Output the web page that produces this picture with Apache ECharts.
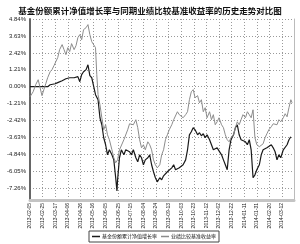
<!DOCTYPE html>
<html><head><meta charset="utf-8">
<script src="https://cdn.jsdelivr.net/npm/echarts@6/dist/echarts.min.js"></script>
<style>html,body{margin:0;padding:0;background:#fff}#c{width:300px;height:244px}</style>
</head><body><div id="c"></div>
<script>
var titleText = '基金份额累计净值增长率与同期业绩比较基准收益率的历史走势对比图';
var fundName = '基金份额累计净值增长率';
var benchName = '业绩比较基准收益率';
var xTickLabels = ['2013-02-05','2013-02-25','2013-03-17','2013-04-06','2013-04-26','2013-05-16','2013-06-05','2013-06-25','2013-07-15','2013-08-04','2013-08-24','2013-09-13','2013-10-03','2013-10-23','2013-11-12','2013-12-02','2013-12-22','2014-01-11','2014-01-31','2014-02-20','2014-03-12'];
var yTicks = [4.84, 3.63, 2.42, 1.21, 0.00, -1.21, -2.42, -3.63, -4.84, -6.05, -7.26];
// days since 2013-02-05
var fundDays = [0,8,16,24,28,32,35,40,44,47,51,54,57,60,63,66,70,73,76,79,82,85,89,92,95,98,101,104,108,111,114,117,120,123,126,130,133,136,138,139,142,145,149,152,155,158,161,164,168,171,174,177,180,183,187,190,193,196,199,202,206,209,212,215,218,221,225,228,231,234,237,240,243,247,250,253,256,259,262,266,269,272,275,278,281,285,288,291,294,297,300,304,307,310,313,316,319,323,326,329,332,335,338,342,345,348,351,354,357,360,364,367,370,373,376,379,383,386,389,392,395,398,402,405,408,411,414];
var fundVals = [0,0,0,0,0,0.14,0.14,0.21,0.29,0.36,0.43,0.50,0.57,0.57,0.64,0.57,0.64,0.50,0.72,0.36,0.86,1.07,1.22,1.57,0.79,0.64,0.50,-0.57,-0.93,-2.22,-2.72,-3.65,-4.15,-4.87,-4.51,-4.87,-5.23,-6.51,-7.45,-6.66,-5.08,-4.51,-4.87,-4.51,-4.37,-4.65,-4.87,-4.51,-5.08,-5.37,-4.87,-5.08,-5.58,-5.23,-5.08,-4.87,-5.58,-6.08,-6.51,-6.80,-6.51,-6.66,-6.37,-6.30,-6.08,-5.94,-5.80,-5.58,-5.94,-6.08,-5.80,-5.94,-5.58,-5.23,-4.51,-3.44,-3.22,-2.93,-3.08,-3.44,-3.29,-3.51,-3.36,-3.65,-3.44,-3.79,-4.15,-4.51,-4.65,-4.37,-4.51,-4.87,-5.23,-5.58,-5.94,-4.51,-3.79,-3.44,-2.93,-2.72,-3.44,-3.79,-3.65,-3.94,-4.15,-3.79,-4.51,-6.51,-6.30,-5.94,-5.58,-4.87,-4.51,-4.65,-4.37,-4.51,-4.15,-4.37,-4.65,-5.23,-4.87,-5.08,-4.51,-4.37,-4.15,-3.79,-3.58];
var benchDays = [0,5,9,13,16,19,22,25,28,32,35,38,41,44,47,51,54,57,60,63,66,70,73,76,79,82,85,89,92,95,98,101,104,106,108,111,114,117,120,123,126,130,133,136,139,142,145,149,152,155,158,161,164,168,171,174,177,180,183,187,190,193,196,199,202,206,209,212,215,218,221,225,228,231,234,237,240,243,247,250,253,256,259,262,266,269,272,275,278,281,285,288,291,294,297,300,304,307,310,313,316,319,323,326,329,332,335,338,342,345,348,351,354,357,360,364,367,370,373,376,379,383,386,389,392,395,398,402,405,408,411,414,416];
var benchVals = [-0.72,-0.36,0.14,0.50,-0.07,-0.64,-0.21,0.21,0.64,1.07,1.22,1.50,1.79,2.08,2.65,3.01,2.65,2.29,2.79,2.51,3.08,2.65,2.93,3.51,3.72,3.36,4.08,4.22,4.44,3.72,3.22,3.36,2.79,0.86,-0.57,-1.29,-2.22,-3.08,-2.72,-3.44,-3.79,-4.51,-5.08,-5.44,-5.23,-4.51,-4.37,-3.79,-3.65,-3.08,-2.65,-2.51,-2.72,-2.36,-2.93,-3.79,-4.37,-4.15,-4.51,-3.94,-4.15,-4.51,-5.23,-5.58,-5.80,-5.58,-4.87,-4.51,-3.79,-3.44,-3.08,-2.72,-2.36,-2.22,-1.79,-2.00,-1.86,-2.22,-2.00,-1.79,-0.93,-0.36,-0.21,-0.79,-0.64,-1.15,-0.93,-1.79,-1.50,-2.22,-1.79,-2.36,-2.00,-2.72,-2.51,-2.22,-2.72,-2.93,-3.44,-3.79,-3.94,-3.65,-3.44,-2.93,-2.51,-2.72,-2.36,-2.00,-2.22,-1.79,-2.00,-2.22,-1.65,-3.65,-4.15,-4.29,-4.22,-4.08,-3.65,-3.36,-3.08,-2.86,-2.65,-2.51,-2.72,-2.36,-2.51,-2.22,-1.93,-2.15,-1.50,-0.93,-1.15];

function pairs(d, v) { return d.map(function (x, i) { return [x, v[i]]; }); }

var chart = echarts.init(document.getElementById('c'), null, {renderer: 'canvas'});
chart.setOption({
  animation: false,
  title: {text: titleText, left: 'center', top: 2,
    textStyle: {fontSize: 8.5, fontWeight: 'bold', color: '#111', fontFamily: 'Noto Sans CJK SC'}},
  legend: {
    data: [fundName, benchName], left: 89, top: 231, itemGap: 4,
    itemWidth: 8, itemHeight: 1.5, icon: 'rect',
    borderColor: '#444', borderWidth: 1, padding: [3, 3],
    textStyle: {fontSize: 5, color: '#111', fontFamily: 'Noto Sans CJK SC', padding: [0, 0, 0, -3]}
  },
  grid: {left: 30, right: 6, top: 19, bottom: 44},
  xAxis: {
    type: 'value', min: 0, max: 419, interval: 20,
    axisLine: {onZero: false, lineStyle: {color: '#c4c4c4', width: 3}},
    axisTick: {show: false},
    axisLabel: {rotate: 90, fontSize: 5, color: '#222', margin: 3, fontFamily: 'Arial',
      showMaxLabel: false,
      formatter: function (v) { return xTickLabels[Math.round(v / 20)] || ''; }},
    splitLine: {show: true, lineStyle: {color: '#9a9a9a', type: [1, 2], width: 1}}
  },
  yAxis: [{
    type: 'value', min: -8.1, max: 4.84,
    axisLine: {show: true, onZero: false, lineStyle: {color: '#666', width: 2}},
    axisTick: {show: false, customValues: yTicks},
    axisLabel: {fontSize: 6, color: '#222', margin: 4, fontFamily: 'Arial', customValues: yTicks,
      showMaxLabel: true, showMinLabel: true, hideOverlap: false,
      formatter: function (v) { return v.toFixed(2) + '%'; }},
    splitLine: {show: true, lineStyle: {color: '#9a9a9a', type: [1, 2], width: 1}}
  }, {
    type: 'value', min: -8.1, max: 4.84, position: 'right',
    axisLine: {show: true, onZero: false, lineStyle: {color: '#bbb', width: 1}},
    axisTick: {show: false}, axisLabel: {show: false}, splitLine: {show: false}
  }],
  series: [
    {name: fundName, type: 'line', data: pairs(fundDays, fundVals), showSymbol: false, symbol: 'none',
      lineStyle: {color: '#1a1a1a', width: 1.2}, itemStyle: {color: '#1a1a1a'}},
    {name: benchName, type: 'line', data: pairs(benchDays, benchVals), showSymbol: false, symbol: 'none',
      lineStyle: {color: '#8c8c8c', width: 1}, itemStyle: {color: '#8c8c8c'}}
  ]
});
</script></body></html>
